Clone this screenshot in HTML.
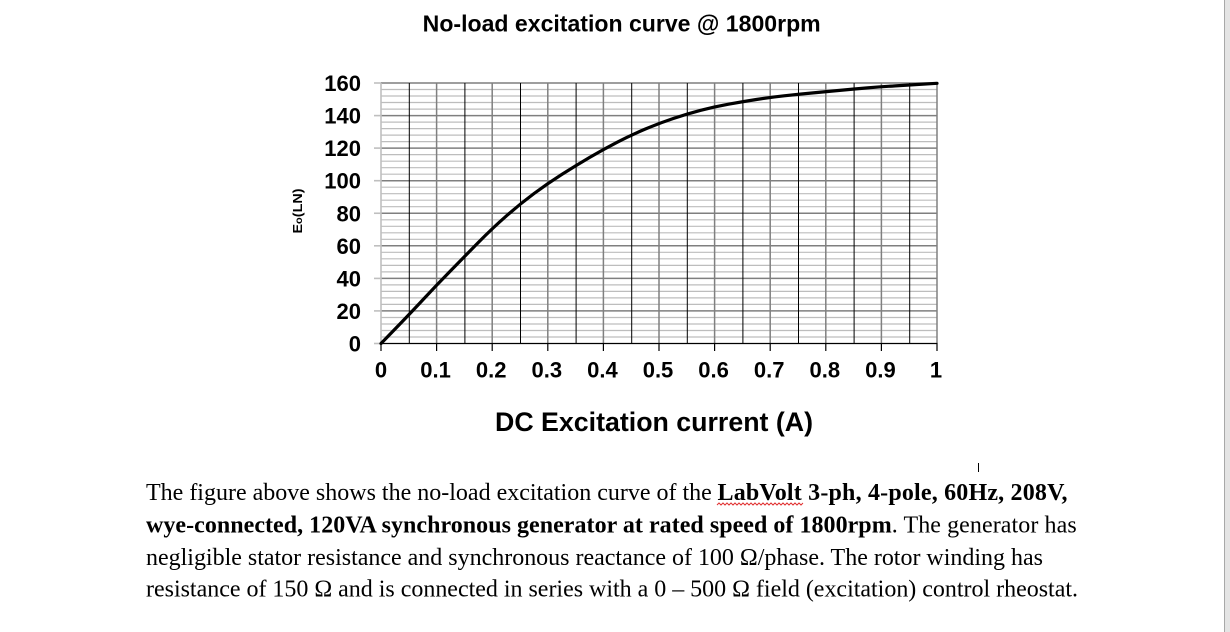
<!DOCTYPE html>
<html>
<head>
<meta charset="utf-8">
<style>
  html, body { margin:0; padding:0; background:#fff; }
  body { width:1230px; height:632px; overflow:hidden; }
  svg { display:block; }
  .sans { font-family: "Liberation Sans", Arial, sans-serif; font-weight:bold; fill:#000; }
  .serif { font-family: "Liberation Serif", "Times New Roman", serif; font-size:24px; fill:#000; }
  .b { font-weight:bold; }
</style>
</head>
<body>
<svg width="1230" height="632" viewBox="0 0 1230 632" xmlns="http://www.w3.org/2000/svg">
  <rect x="0" y="0" width="1230" height="632" fill="#ffffff"/>
  <rect x="1224" y="0" width="1" height="632" fill="#a8a8a8"/>
  <rect x="1225" y="0" width="5" height="632" fill="#e4e4e4"/>

  <text class="sans" x="422.7" y="31.5" font-size="23" textLength="398" lengthAdjust="spacingAndGlyphs">No-load excitation curve @ 1800rpm</text>

  <g stroke="#bdbdbd" stroke-width="1.2">
    <line x1="381" x2="937" y1="89.5" y2="89.5"/><line x1="381" x2="937" y1="96.0" y2="96.0"/><line x1="381" x2="937" y1="102.5" y2="102.5"/><line x1="381" x2="937" y1="109.1" y2="109.1"/>
    <line x1="381" x2="937" y1="122.1" y2="122.1"/><line x1="381" x2="937" y1="128.6" y2="128.6"/><line x1="381" x2="937" y1="135.1" y2="135.1"/><line x1="381" x2="937" y1="141.6" y2="141.6"/>
    <line x1="381" x2="937" y1="154.6" y2="154.6"/><line x1="381" x2="937" y1="161.2" y2="161.2"/><line x1="381" x2="937" y1="167.7" y2="167.7"/><line x1="381" x2="937" y1="174.2" y2="174.2"/>
    <line x1="381" x2="937" y1="187.2" y2="187.2"/><line x1="381" x2="937" y1="193.7" y2="193.7"/><line x1="381" x2="937" y1="200.2" y2="200.2"/><line x1="381" x2="937" y1="206.7" y2="206.7"/>
    <line x1="381" x2="937" y1="219.8" y2="219.8"/><line x1="381" x2="937" y1="226.3" y2="226.3"/><line x1="381" x2="937" y1="232.8" y2="232.8"/><line x1="381" x2="937" y1="239.3" y2="239.3"/>
    <line x1="381" x2="937" y1="252.3" y2="252.3"/><line x1="381" x2="937" y1="258.8" y2="258.8"/><line x1="381" x2="937" y1="265.4" y2="265.4"/><line x1="381" x2="937" y1="271.9" y2="271.9"/>
    <line x1="381" x2="937" y1="284.9" y2="284.9"/><line x1="381" x2="937" y1="291.4" y2="291.4"/><line x1="381" x2="937" y1="297.9" y2="297.9"/><line x1="381" x2="937" y1="304.4" y2="304.4"/>
    <line x1="381" x2="937" y1="317.5" y2="317.5"/><line x1="381" x2="937" y1="324.0" y2="324.0"/><line x1="381" x2="937" y1="330.5" y2="330.5"/><line x1="381" x2="937" y1="337.0" y2="337.0"/>
  </g>
  <g stroke="#7f7f7f" stroke-width="1.5">
    <line x1="381" x2="937" y1="83" y2="83"/>
    <line x1="381" x2="937" y1="115.6" y2="115.6"/>
    <line x1="381" x2="937" y1="148.1" y2="148.1"/>
    <line x1="381" x2="937" y1="180.7" y2="180.7"/>
    <line x1="381" x2="937" y1="213.25" y2="213.25"/>
    <line x1="381" x2="937" y1="245.8" y2="245.8"/>
    <line x1="381" x2="937" y1="278.4" y2="278.4"/>
    <line x1="381" x2="937" y1="310.9" y2="310.9"/>
  </g>
  <g stroke="#000" stroke-width="1">
    <line x1="409.3" x2="409.3" y1="83" y2="343.5"/>
    <line x1="464.9" x2="464.9" y1="83" y2="343.5"/>
    <line x1="520.5" x2="520.5" y1="83" y2="343.5"/>
    <line x1="576.1" x2="576.1" y1="83" y2="343.5"/>
    <line x1="631.7" x2="631.7" y1="83" y2="343.5"/>
    <line x1="687.3" x2="687.3" y1="83" y2="343.5"/>
    <line x1="742.9" x2="742.9" y1="83" y2="343.5"/>
    <line x1="798.5" x2="798.5" y1="83" y2="343.5"/>
    <line x1="854.1" x2="854.1" y1="83" y2="343.5"/>
    <line x1="909.7" x2="909.7" y1="83" y2="343.5"/>
  </g>
  <g stroke="#808080" stroke-width="1.5">
    <line x1="436.6" x2="436.6" y1="83" y2="343.5"/>
    <line x1="492.2" x2="492.2" y1="83" y2="343.5"/>
    <line x1="547.8" x2="547.8" y1="83" y2="343.5"/>
    <line x1="603.4" x2="603.4" y1="83" y2="343.5"/>
    <line x1="659" x2="659" y1="83" y2="343.5"/>
    <line x1="714.6" x2="714.6" y1="83" y2="343.5"/>
    <line x1="770.2" x2="770.2" y1="83" y2="343.5"/>
    <line x1="825.8" x2="825.8" y1="83" y2="343.5"/>
    <line x1="881.4" x2="881.4" y1="83" y2="343.5"/>
    <line x1="937" x2="937" y1="83" y2="343.5"/>
  </g>
  <g stroke="#bfbfbf" stroke-width="1.6">
    <line x1="381" x2="381" y1="83" y2="344"/>
    <line x1="374" x2="381" y1="83" y2="83"/>
    <line x1="374" x2="381" y1="115.6" y2="115.6"/>
    <line x1="374" x2="381" y1="148.1" y2="148.1"/>
    <line x1="374" x2="381" y1="180.7" y2="180.7"/>
    <line x1="374" x2="381" y1="213.25" y2="213.25"/>
    <line x1="374" x2="381" y1="245.8" y2="245.8"/>
    <line x1="374" x2="381" y1="278.4" y2="278.4"/>
    <line x1="374" x2="381" y1="310.9" y2="310.9"/>
    <line x1="374" x2="381" y1="343.5" y2="343.5"/>
  </g>
  <g stroke="#000" stroke-width="1.2">
    <line x1="381" x2="937.5" y1="343.5" y2="343.5"/>
    <line x1="381" x2="381" y1="343.5" y2="351"/>
    <line x1="436.6" x2="436.6" y1="343.5" y2="351"/>
    <line x1="492.2" x2="492.2" y1="343.5" y2="351"/>
    <line x1="547.8" x2="547.8" y1="343.5" y2="351"/>
    <line x1="603.4" x2="603.4" y1="343.5" y2="351"/>
    <line x1="659" x2="659" y1="343.5" y2="351"/>
    <line x1="714.6" x2="714.6" y1="343.5" y2="351"/>
    <line x1="770.2" x2="770.2" y1="343.5" y2="351"/>
    <line x1="825.8" x2="825.8" y1="343.5" y2="351"/>
    <line x1="881.4" x2="881.4" y1="343.5" y2="351"/>
    <line x1="937" x2="937" y1="343.5" y2="351"/>
  </g>

  <path d="M381,343.5
           Q408.8,315 422.7,300
           Q436.6,285 450.5,270.85
           Q464.4,256.7 478.3,242.5
           Q492.2,228.3 506.1,216.15
           Q520,204 533.9,193.65
           Q547.8,183.3 561.7,174.5
           Q575.6,165.7 589.5,157.5
           Q603.4,149.3 617.3,142.15
           Q631.2,135 645.1,129.15
           Q659,123.3 672.9,118.65
           Q686.8,114 700.7,110.35
           Q714.6,106.7 728.5,104.2
           Q742.4,101.7 756.3,99.5
           Q770.2,97.3 784.1,95.8
           Q798,94.3 811.9,93
           Q825.8,91.7 839.7,90.35
           Q853.6,89 867.5,87.85
           Q881.4,86.7 895.3,85.85
           Q909.2,85 923.1,84.15
           L937,83.3"
        fill="none" stroke="#000" stroke-width="3.2" stroke-linejoin="round" stroke-linecap="round"/>

  <g class="sans" font-size="22" text-anchor="end">
    <text x="361" y="91">160</text>
    <text x="361" y="123.6">140</text>
    <text x="361" y="156.1">120</text>
    <text x="361" y="188.7">100</text>
    <text x="361" y="221.25">80</text>
    <text x="361" y="253.8">60</text>
    <text x="361" y="286.4">40</text>
    <text x="361" y="318.9">20</text>
    <text x="361" y="351.5">0</text>
  </g>
  <g class="sans" font-size="22" text-anchor="middle">
    <text x="381" y="377.5">0</text>
    <text x="435.6" y="377.5">0.1</text>
    <text x="491.2" y="377.5">0.2</text>
    <text x="546.8" y="377.5">0.3</text>
    <text x="602.4" y="377.5">0.4</text>
    <text x="658" y="377.5">0.5</text>
    <text x="713.6" y="377.5">0.6</text>
    <text x="769.2" y="377.5">0.7</text>
    <text x="824.8" y="377.5">0.8</text>
    <text x="880.4" y="377.5">0.9</text>
    <text x="936" y="377.5">1</text>
  </g>

  <text class="sans" font-size="13" transform="translate(302,233.5) rotate(-90)" textLength="45" lengthAdjust="spacingAndGlyphs">E<tspan font-size="10">o</tspan>(LN)</text>

  <text class="sans" x="495" y="431" font-size="27" textLength="318" lengthAdjust="spacingAndGlyphs">DC Excitation current (A)</text>

  <line x1="978.5" x2="978.5" y1="463" y2="472" stroke="#000" stroke-width="1"/>

  <text class="serif" x="146" y="500">The figure above shows the no-load excitation curve of the</text>
  <text class="serif b" x="717.5" y="500" textLength="350" lengthAdjust="spacing">LabVolt 3-ph, 4-pole, 60Hz, 208V,</text>
  <path d="M717,505 l2,-2 l2,2 l2,-2 l2,2 l2,-2 l2,2 l2,-2 l2,2 l2,-2 l2,2 l2,-2 l2,2 l2,-2 l2,2 l2,-2 l2,2 l2,-2 l2,2 l2,-2 l2,2 l2,-2 l2,2 l2,-2 l2,2 l2,-2 l2,2 l2,-2 l2,2 l2,-2 l2,2 l2,-2 l2,2 l2,-2 l2,2 l2,-2 l2,2 l2,-2 l2,2 l2,-2 l2,2 l2,-2 l2,2 l2,-2" fill="none" stroke="#e03030" stroke-width="1"/>

  <text class="serif b" x="146" y="532.3" textLength="745.7" lengthAdjust="spacing">wye-connected, 120VA synchronous generator at rated speed of 1800rpm</text>
  <text class="serif" x="891.7" y="532.3" textLength="185" lengthAdjust="spacing">. The generator has</text>

  <text class="serif" x="146" y="565" textLength="897" lengthAdjust="spacing">negligible stator resistance and synchronous reactance of 100 Ω/phase. The rotor winding has</text>
  <text class="serif" x="146" y="596.7" textLength="932" lengthAdjust="spacing">resistance of 150 Ω and is connected in series with a 0 – 500 Ω field (excitation) control rheostat.</text>
</svg>
</body>
</html>
